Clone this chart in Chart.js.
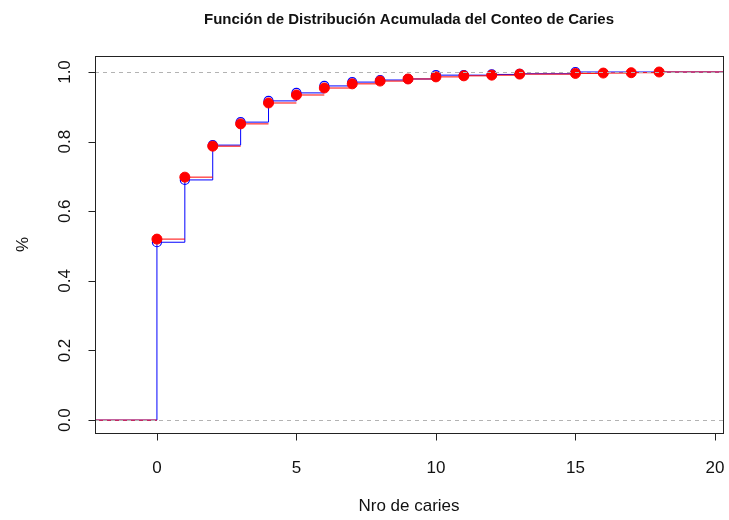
<!DOCTYPE html>
<html>
<head>
<meta charset="utf-8">
<script src="https://cdn.jsdelivr.net/npm/chart.js@4/dist/chart.umd.min.js"></script>
<style>
  html, body { margin: 0; padding: 0; background: #fff; }
  #wrap { width: 729px; height: 520px; }
</style>
</head>
<body>
<div id="wrap"><canvas id="ecdfChart" width="729" height="520"></canvas></div>
<script>
// Conteo de caries: valores observados y proporción acumulada
const blueX = [0, 1, 2, 3, 4, 5, 6, 7, 8, 9, 10, 11, 12, 13, 15];
const blueY = [0.511, 0.690, 0.790, 0.856, 0.917, 0.940, 0.960, 0.971, 0.977, 0.980, 0.991, 0.991, 0.993, 0.995, 1.000];
const redX = [0, 1, 2, 3, 4, 5, 6, 7, 8, 9, 10, 11, 12, 13, 15, 16, 17, 18];
const redY = [0.520, 0.698, 0.787, 0.851, 0.911, 0.934, 0.954, 0.966, 0.974, 0.980, 0.986, 0.989, 0.991, 0.994, 0.996, 0.997, 0.998, 1.000];
const xTicks = [0, 5, 10, 15, 20];
const yTicks = [0, 0.2, 0.4, 0.6, 0.8, 1.0];

const titulo = 'Función de Distribución Acumulada del Conteo de Caries';
const xTitulo = 'Nro de caries';
const yTitulo = '%';

const FONT = '"Liberation Sans", Arial, sans-serif';

// escalón con verticales (se extiende a ambos lados)
function stepWithVerticals(xs, ys) {
  const pts = [{ x: -100, y: 0 }];
  xs.forEach((x, i) => pts.push({ x: x, y: ys[i] }));
  pts.push({ x: 100, y: ys[ys.length - 1] });
  return pts;
}

// solo tramos horizontales, sin verticales
function stepHorizontal(xs, ys) {
  const pts = [{ x: -100, y: 0 }, { x: xs[0], y: 0 }, { x: xs[0], y: null }];
  xs.forEach((x, i) => {
    const next = i < xs.length - 1 ? xs[i + 1] : 100;
    pts.push({ x: x, y: ys[i] }, { x: next, y: ys[i] }, { x: next, y: null });
  });
  return pts;
}

function points(xs, ys) {
  return xs.map((x, i) => ({ x: x, y: ys[i] }));
}

// ejes, caja, títulos y líneas 0/1 al estilo de R base
const rAxes = {
  id: 'rAxes',
  afterDatasetsDraw(chart) {
    const ctx = chart.ctx;
    const a = chart.chartArea;
    const xs = chart.scales.x, ys = chart.scales.y;
    ctx.save();

    // líneas punteadas en 0 y 1
    ctx.strokeStyle = '#b3b3b3';
    ctx.lineWidth = 1;
    ctx.setLineDash([4, 4]);
    [0, 1].forEach(v => {
      const py = Math.round(ys.getPixelForValue(v)) + 0.5;
      ctx.beginPath();
      ctx.moveTo(a.left, py);
      ctx.lineTo(a.right, py);
      ctx.stroke();
    });
    ctx.setLineDash([]);

    // caja
    ctx.strokeStyle = '#222';
    ctx.strokeRect(Math.round(a.left) + 0.5, Math.round(a.top) + 0.5,
      Math.round(a.right - a.left), Math.round(a.bottom - a.top));

    // eje x
    const by = Math.round(a.bottom) + 0.5;
    ctx.beginPath();
    ctx.moveTo(xs.getPixelForValue(xTicks[0]), by);
    ctx.lineTo(xs.getPixelForValue(xTicks[xTicks.length - 1]), by);
    xTicks.forEach(t => {
      const px = Math.round(xs.getPixelForValue(t)) + 0.5;
      ctx.moveTo(px, by);
      ctx.lineTo(px, by + 7);
    });
    ctx.stroke();

    // eje y
    const lx = Math.round(a.left) + 0.5;
    ctx.beginPath();
    ctx.moveTo(lx, ys.getPixelForValue(yTicks[0]));
    ctx.lineTo(lx, ys.getPixelForValue(yTicks[yTicks.length - 1]));
    yTicks.forEach(t => {
      const py = Math.round(ys.getPixelForValue(t)) + 0.5;
      ctx.moveTo(lx, py);
      ctx.lineTo(lx - 7, py);
    });
    ctx.stroke();

    ctx.fillStyle = '#111';
    ctx.font = '17px ' + FONT;
    ctx.textAlign = 'center';
    ctx.textBaseline = 'alphabetic';
    xTicks.forEach(t => {
      ctx.fillText(String(t), xs.getPixelForValue(t), 473);
    });
    yTicks.forEach(t => {
      ctx.save();
      ctx.translate(70, ys.getPixelForValue(t));
      ctx.rotate(-Math.PI / 2);
      ctx.fillText(t.toFixed(1), 0, 0);
      ctx.restore();
    });

    // títulos
    const cx = (a.left + a.right) / 2;
    ctx.fillText(xTitulo, cx, 511);
    ctx.save();
    ctx.translate(28, (a.top + a.bottom) / 2);
    ctx.rotate(-Math.PI / 2);
    ctx.fillText(yTitulo, 0, 0);
    ctx.restore();

    ctx.font = 'bold 15px ' + FONT;
    ctx.fillText(titulo, cx, 24);
    ctx.restore();
  }
};

new Chart(document.getElementById('ecdfChart'), {
  type: 'scatter',
  data: {
    datasets: [
      {
        label: 'azul',
        type: 'line',
        data: stepWithVerticals(blueX, blueY),
        stepped: 'before',
        borderColor: '#0000ff',
        borderWidth: 1,
        pointRadius: 0,
        fill: false,
        order: 4
      },
      {
        label: 'azul puntos',
        data: points(blueX, blueY),
        pointRadius: 4.5,
        pointBackgroundColor: 'rgba(0,0,0,0)',
        pointBorderColor: '#0000ff',
        pointBorderWidth: 1.2,
        order: 3
      },
      {
        label: 'rojo',
        type: 'line',
        data: stepHorizontal(redX, redY),
        spanGaps: false,
        borderColor: '#ff0000',
        borderWidth: 1,
        pointRadius: 0,
        fill: false,
        order: 2
      },
      {
        label: 'rojo puntos',
        data: points(redX, redY),
        pointRadius: 5,
        pointBackgroundColor: '#ff0000',
        pointBorderColor: '#ff0000',
        pointBorderWidth: 1,
        order: 1
      }
    ]
  },
  options: {
    responsive: false,
    animation: false,
    layout: { padding: { left: 95, right: 6, top: 56, bottom: 87 } },
    scales: {
      x: { type: 'linear', min: -2.22, max: 20.29, display: false },
      y: { type: 'linear', min: -0.037, max: 1.046, display: false }
    },
    plugins: {
      legend: { display: false },
      tooltip: { enabled: false },
      title: { display: false }
    }
  },
  plugins: [rAxes]
});
</script>
</body>
</html>
